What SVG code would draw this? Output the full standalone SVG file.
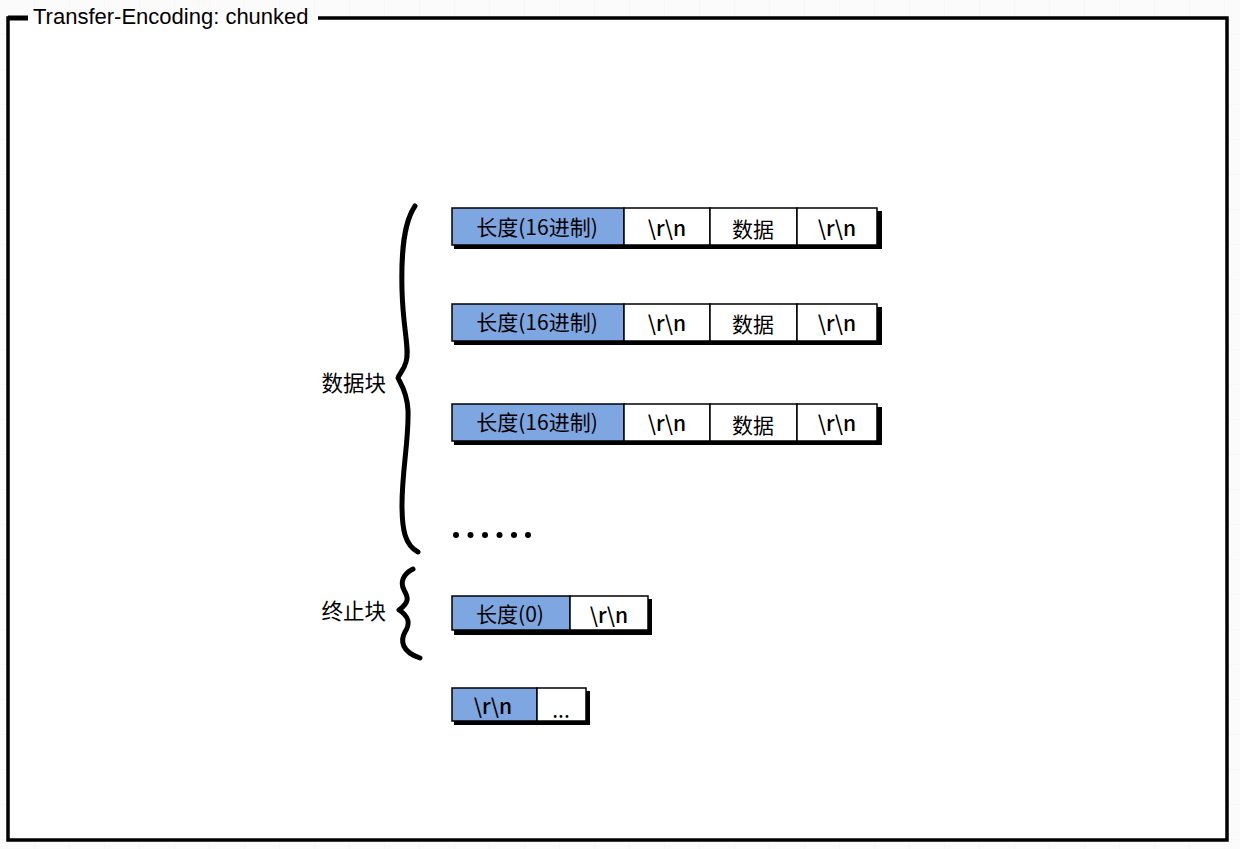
<svg xmlns="http://www.w3.org/2000/svg" width="1240" height="849" viewBox="0 0 1240 849">
  <defs>
    <pattern id="grid" width="35" height="35" patternUnits="userSpaceOnUse">
      <path d="M35 0V35M0 35H35" fill="none" stroke="#f3f3f3" stroke-width="1"/>
    </pattern>
    <style>
      .cell { stroke: #000; stroke-width: 1.5; }
      .blue { fill: #7ea6e0; }
      .white { fill: #ffffff; }
      .shadow { fill: #000; }
      .t { font-family: "Noto Sans CJK SC", "Noto Sans", sans-serif; font-size: 21px; font-weight: 400; fill: #000; text-anchor: middle; dominant-baseline: central; }
      .rn { font-weight: 500; }
      .lbl { font-family: "Noto Sans CJK SC", "Noto Sans", sans-serif; font-size: 21.5px; fill: #000; text-anchor: end; dominant-baseline: central; }
      .brace { fill: none; stroke: #000; stroke-width: 5; stroke-linecap: round; stroke-linejoin: round; }
    </style>
  </defs>
  <rect width="1240" height="849" fill="#fbfbfb"/>
  <rect width="1240" height="849" fill="url(#grid)"/>

  <g id="frame">
    <rect x="8" y="18" width="1219" height="822" fill="#ffffff"/>
    <path d="M28 18H8V840H1227V18H318" fill="none" stroke="#000" stroke-width="3.5"/>
    <path d="M8 18H28" stroke="#000" stroke-width="5"/>
    <text x="33" y="16" font-family="'Liberation Sans', Arial, sans-serif" font-size="22" dominant-baseline="central" fill="#000">Transfer-Encoding: chunked</text>
  </g>

  <g id="row1">
    <rect class="shadow" x="454" y="211" width="428" height="38"/>
    <rect class="cell blue" x="452" y="208" width="172" height="37"/>
    <rect class="cell white" x="624" y="208" width="86" height="37"/>
    <rect class="cell white" x="710" y="208" width="87" height="37"/>
    <rect class="cell white" x="797" y="208" width="80" height="37"/>
    <text class="t" x="537" y="226">长度(16进制)</text>
    <text class="t rn" x="667" y="227">\r\n</text>
    <text class="t" x="753" y="228">数据</text>
    <text class="t rn" x="837" y="227">\r\n</text>
  </g>

  <g id="row2">
    <rect class="shadow" x="454" y="307" width="428" height="38"/>
    <rect class="cell blue" x="452" y="304" width="172" height="37"/>
    <rect class="cell white" x="624" y="304" width="86" height="37"/>
    <rect class="cell white" x="710" y="304" width="87" height="37"/>
    <rect class="cell white" x="797" y="304" width="80" height="37"/>
    <text class="t" x="537" y="321">长度(16进制)</text>
    <text class="t rn" x="667" y="322">\r\n</text>
    <text class="t" x="753" y="323">数据</text>
    <text class="t rn" x="837" y="322">\r\n</text>
  </g>

  <g id="row3">
    <rect class="shadow" x="454" y="407" width="428" height="38"/>
    <rect class="cell blue" x="452" y="404" width="172" height="37"/>
    <rect class="cell white" x="624" y="404" width="86" height="37"/>
    <rect class="cell white" x="710" y="404" width="87" height="37"/>
    <rect class="cell white" x="797" y="404" width="80" height="37"/>
    <text class="t" x="537" y="421">长度(16进制)</text>
    <text class="t rn" x="667" y="422">\r\n</text>
    <text class="t" x="753" y="424">数据</text>
    <text class="t rn" x="837" y="422">\r\n</text>
  </g>

  <g id="dots" fill="#000">
    <circle cx="456" cy="535" r="3"/>
    <circle cx="470.5" cy="535" r="3"/>
    <circle cx="485" cy="535" r="3"/>
    <circle cx="499.5" cy="535" r="3"/>
    <circle cx="514" cy="535" r="3"/>
    <circle cx="528" cy="535" r="3"/>
  </g>

  <g id="row-end">
    <rect class="shadow" x="454" y="599" width="198" height="36"/>
    <rect class="cell blue" x="452" y="596" width="118" height="34"/>
    <rect class="cell white" x="570" y="596" width="78" height="34"/>
    <text class="t" x="510" y="613">长度(0)</text>
    <text class="t rn" x="609" y="614">\r\n</text>
  </g>

  <g id="row-trailer">
    <rect class="shadow" x="454" y="691" width="136" height="34"/>
    <rect class="cell blue" x="452" y="688" width="85" height="33"/>
    <rect class="cell white" x="537" y="688" width="49" height="33"/>
    <text class="t rn" x="493" y="705">\r\n</text>
    <text class="t" x="561" y="709" font-size="13">...</text>
  </g>

  <g id="brace-data">
    <path class="brace" d="M415 206 C404 222 401 250 402 290 C403 330 410 350 406 362 C404 370 399 374 398 378 C401 384 407 392 408 410 C409 440 402 470 402 505 C402 530 405 545 418 552"/>
    <text class="lbl" x="386" y="381">数据块</text>
  </g>

  <g id="brace-end">
    <path class="brace" d="M413 569 C403 574 400 582 404 590 C408 597 410 602 399 610 C410 617 410 624 405 632 C400 641 402 652 420 658"/>
    <text class="lbl" x="386" y="609">终止块</text>
  </g>
</svg>
